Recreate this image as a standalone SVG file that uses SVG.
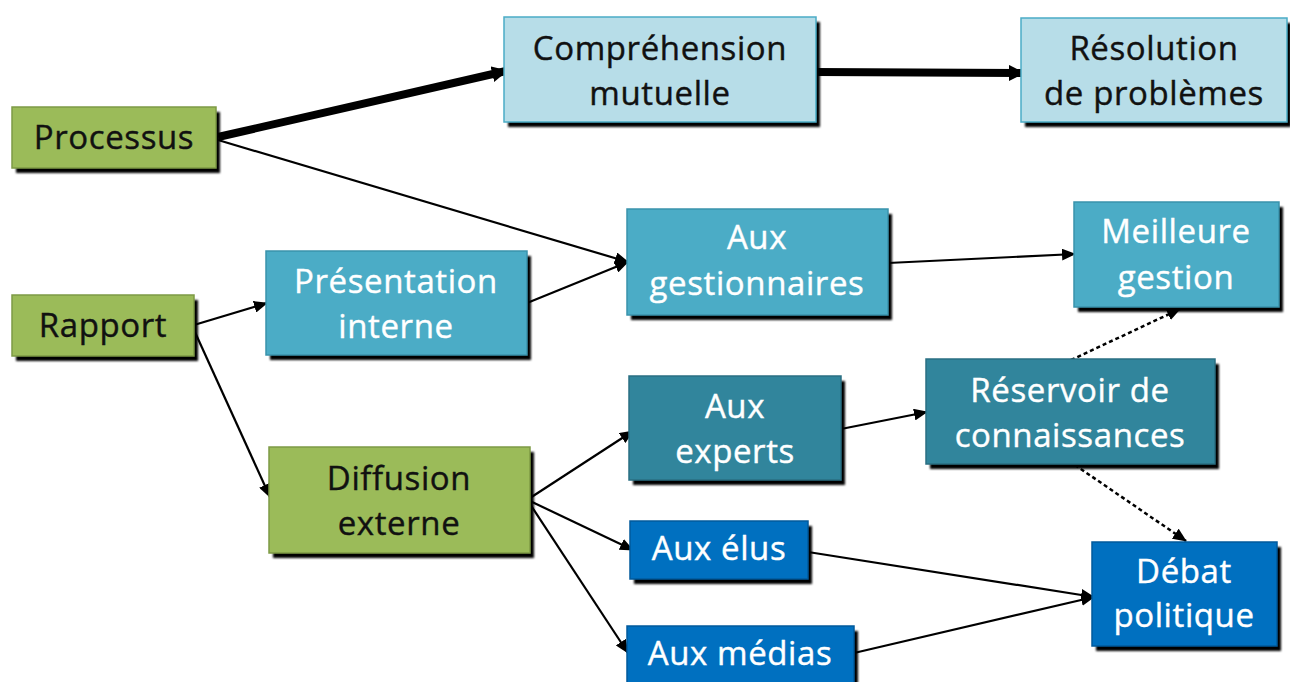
<svg xmlns="http://www.w3.org/2000/svg" width="1290" height="682" viewBox="0 0 1290 682">
<defs>
<filter id="sh" x="-10%" y="-10%" width="130%" height="140%"><feGaussianBlur stdDeviation="1"/></filter>
<marker id="ah" markerUnits="userSpaceOnUse" markerWidth="14" markerHeight="12" refX="13" refY="6" orient="auto"><path d="M0,0 L14,6 L0,12 z" fill="#000"/></marker>
<marker id="ahb" markerUnits="userSpaceOnUse" markerWidth="16" markerHeight="16" refX="14" refY="8" orient="auto"><path d="M0,0 L16,8 L0,16 z" fill="#000"/></marker>
</defs>
<style>
.shadow{fill:#000;filter:url(#sh)}
.g{fill:#9BBB59;stroke:#7E9A45;stroke-width:1.5}
.lb{fill:#B7DDE8;stroke:#4BACC6;stroke-width:1.5}
.mb{fill:#4BACC6;stroke:#3A93AC;stroke-width:1.5}
.tb{fill:#31859C;stroke:#2A6F82;stroke-width:1.5}
.bb{fill:#0070C0;stroke:#005A9C;stroke-width:1.5}
text{font-family:"Open Sans","Noto Sans","Liberation Sans",sans-serif;font-size:33px;letter-spacing:0.6px;text-anchor:middle}
.dk{fill:#111;stroke:#111;stroke-width:0.4}
.wt{fill:#fff;stroke:#fff;stroke-width:0.4}
.ln{stroke:#000;stroke-width:2.2;fill:none;marker-end:url(#ah)}
.thick{stroke:#000;stroke-width:8;fill:none;marker-end:url(#ahb)}
.dot{stroke:#000;stroke-width:2.5;fill:none;stroke-dasharray:4 3;marker-end:url(#ah)}
</style>

<g id="connectors">
<line class="thick" x1="218" y1="137" x2="506" y2="71"/>
<line class="thick" x1="816" y1="72" x2="1023" y2="73"/>
<line class="ln" x1="218" y1="140" x2="628" y2="262"/>
<line class="ln" x1="527" y1="303" x2="628" y2="262"/>
<line class="ln" x1="194" y1="325" x2="267" y2="303"/>
<line class="ln" x1="194" y1="330" x2="270" y2="497"/>
<line class="ln" x1="888" y1="263" x2="1075" y2="254"/>
<line class="dot" x1="1071" y1="360" x2="1180" y2="309"/>
<line class="ln" x1="530" y1="498" x2="633" y2="431"/>
<line class="ln" x1="530" y1="501" x2="633" y2="550"/>
<line class="ln" x1="530" y1="504" x2="628" y2="653"/>
<line class="ln" x1="841" y1="429" x2="927" y2="412"/>
<line class="dot" x1="1075" y1="465" x2="1186" y2="541"/>
<line class="ln" x1="808" y1="552" x2="1094" y2="597"/>
<line class="ln" x1="854" y1="653" x2="1094" y2="597"/>
</g>

<g id="n-processus"><rect class="shadow" x="16" y="112" width="204" height="61"/><rect class="g" x="12" y="107" width="204" height="61"/><text class="dk" x="114" y="149">Processus</text></g>
<g id="n-comprehension"><rect class="shadow" x="508" y="22" width="312" height="105"/><rect class="lb" x="504" y="17" width="312" height="105"/><text class="dk" x="660" y="60">Compréhension</text><text class="dk" x="660" y="105">mutuelle</text></g>
<g id="n-resolution"><rect class="shadow" x="1025" y="23" width="266" height="104"/><rect class="lb" x="1021" y="18" width="266" height="104"/><text class="dk" x="1154" y="60">Résolution</text><text class="dk" x="1154" y="105">de problèmes</text></g>
<g id="n-gestionnaires"><rect class="shadow" x="631" y="214" width="261" height="106"/><rect class="mb" x="627" y="209" width="261" height="106"/><text class="wt" x="757" y="249">Aux</text><text class="wt" x="757" y="295">gestionnaires</text></g>
<g id="n-meilleure"><rect class="shadow" x="1078" y="207" width="205" height="105"/><rect class="mb" x="1074" y="202" width="205" height="105"/><text class="wt" x="1176" y="243">Meilleure</text><text class="wt" x="1176" y="289">gestion</text></g>
<g id="n-presentation"><rect class="shadow" x="270" y="256" width="261" height="104"/><rect class="mb" x="266" y="251" width="261" height="104"/><text class="wt" x="396" y="293">Présentation</text><text class="wt" x="396" y="338">interne</text></g>
<g id="n-rapport"><rect class="shadow" x="16" y="300" width="182" height="61"/><rect class="g" x="12" y="295" width="182" height="61"/><text class="dk" x="103" y="337">Rapport</text></g>
<g id="n-diffusion"><rect class="shadow" x="273" y="452" width="261" height="106"/><rect class="g" x="269" y="447" width="261" height="106"/><text class="dk" x="399" y="490">Diffusion</text><text class="dk" x="399" y="535">externe</text></g>
<g id="n-experts"><rect class="shadow" x="633" y="381" width="212" height="104"/><rect class="tb" x="629" y="376" width="212" height="104"/><text class="wt" x="735" y="418">Aux</text><text class="wt" x="735" y="463">experts</text></g>
<g id="n-reservoir"><rect class="shadow" x="930" y="364" width="289" height="105"/><rect class="tb" x="926" y="359" width="289" height="105"/><text class="wt" x="1070" y="402">Réservoir de</text><text class="wt" x="1070" y="447">connaissances</text></g>
<g id="n-elus"><rect class="shadow" x="634" y="526" width="178" height="58"/><rect class="bb" x="630" y="521" width="178" height="58"/><text class="wt" x="719" y="560">Aux élus</text></g>
<g id="n-medias"><rect class="shadow" x="631" y="631" width="227" height="60"/><rect class="bb" x="627" y="626" width="227" height="60"/><text class="wt" x="740" y="665">Aux médias</text></g>
<g id="n-debat"><rect class="shadow" x="1096" y="547" width="185" height="104"/><rect class="bb" x="1092" y="542" width="185" height="104"/><text class="wt" x="1184" y="583">Débat</text><text class="wt" x="1184" y="627">politique</text></g>
</svg>
